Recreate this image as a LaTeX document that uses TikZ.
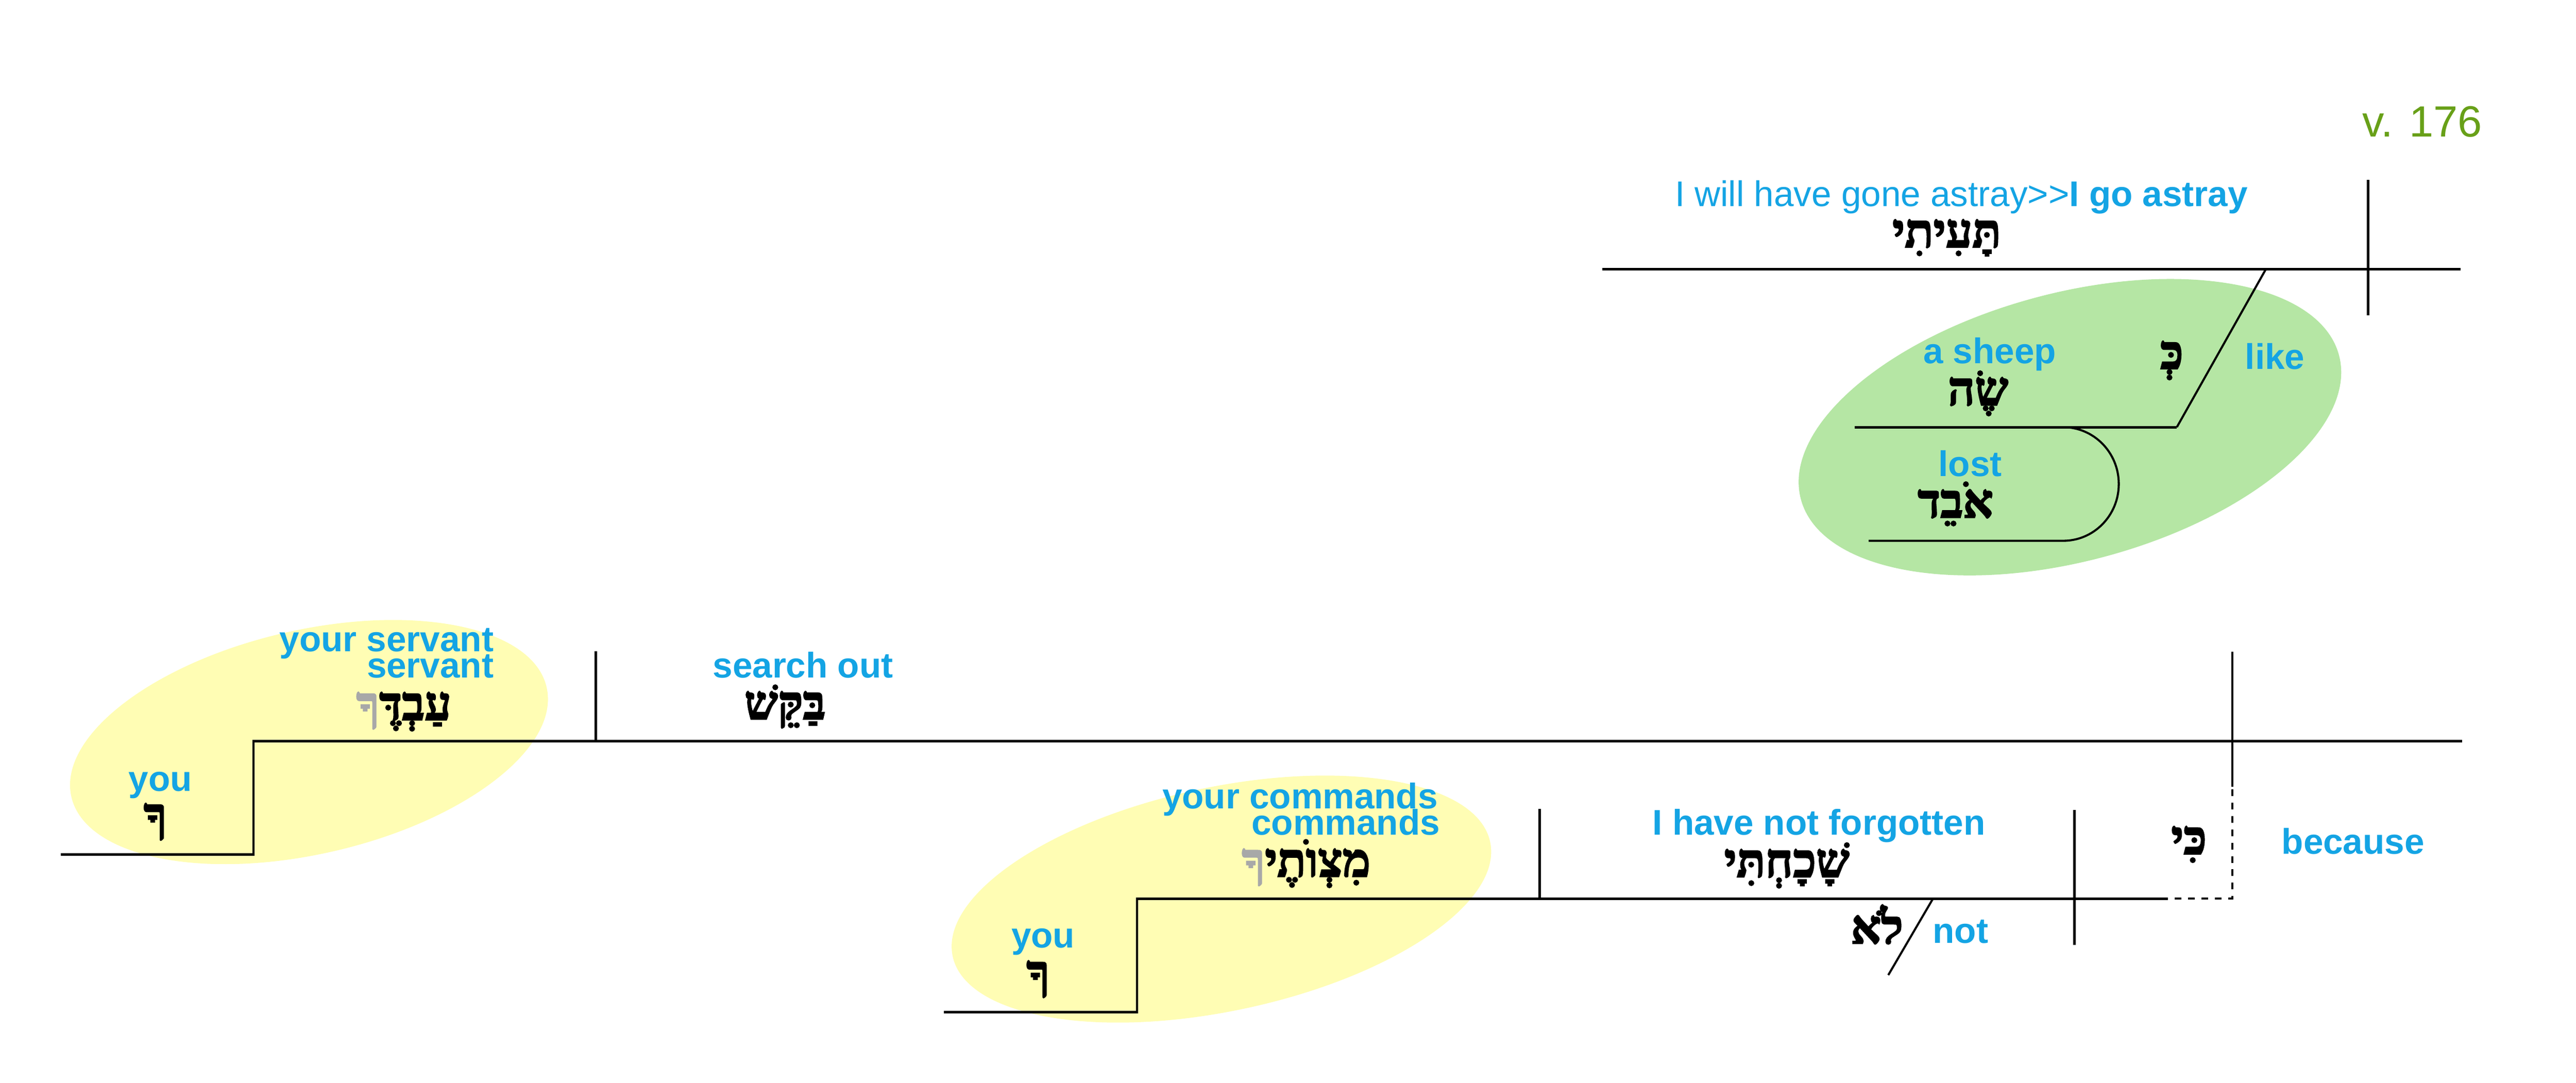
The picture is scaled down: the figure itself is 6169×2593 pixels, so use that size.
\documentclass[tikz,border=0pt]{standalone}
\usepackage{fontspec}
\setmainfont{Liberation Sans}
\newfontfamily\hebfont[Script=Hebrew,BoldFeatures={FakeBold=3}]{Liberation Serif}
\TeXXeTstate=1
\definecolor{glossblue}{RGB}{20,164,228}
\definecolor{versegreen}{RGB}{104,160,24}
\definecolor{hlyellow}{RGB}{255,253,180}
\definecolor{hlgreen}{RGB}{181,230,164}
\definecolor{suffixgray}{RGB}{168,168,168}
\newcommand{\heb}[1]{\beginR #1\endR}

\begin{document}
\begin{tikzpicture}[x=0.1mm,y=-0.1mm,
  gloss/.style={text=glossblue,inner sep=0pt,font=\bfseries\fontsize{24.3}{24.3}\selectfont},
  hword/.style={inner sep=0pt,anchor=base,font=\hebfont\bfseries\fontsize{32}{32}\selectfont},
  base line/.style={line width=0.6mm},
  slant line/.style={line width=0.5mm}]
\useasboundingbox (0,0) rectangle (6169,2593);

\fill[hlyellow,rotate around={13:(740,1777)}] (740,1777) ellipse [x radius=58.4mm,y radius=26.8mm];%les ellipses
\fill[hlyellow,rotate around={12:(2925,2153)}] (2925,2153) ellipse [x radius=65.8mm,y radius=26.8mm];
\fill[hlgreen,rotate around={15:(4957,1023)}] (4957,1023) ellipse [x radius=66.7mm,y radius=32.1mm];

\draw[base line] (3837,645) -- (5893,645);%les lignes
\draw[base line] (5671,431) -- (5671,755);
\draw[slant line] (5426,645) -- (5213,1023);
\draw[base line] (4442,1023) -- (5213,1023);
\draw[slant line] (4941,1023) arc[start angle=90,end angle=-90,x radius=13.3mm,y radius=13.6mm] -- (4475,1295);

\draw[base line] (145,2046) -- (607,2046) -- (607,1775) -- (5896,1775);
\draw[base line] (1427,1560) -- (1427,1775);
\draw[base line] (2260,2424) -- (2723,2424) -- (2723,2152) -- (5192,2152);
\draw[base line] (3687,1937) -- (3687,2152);
\draw[base line] (4968,1940) -- (4968,2263);
\draw[slant line] (4629,2152) -- (4522,2335);
\draw[line width=0.5mm,dash pattern=on 1.6mm off 1.6mm,dash phase=1.6mm] (5192,2152) -- (5346,2152) -- (5346,1884);
\draw[base line] (5346,1884) -- (5346,1561);

\node[anchor=base east,inner sep=0pt,text=versegreen,font=\fontsize{29.8}{29.8}\selectfont] (verse) at (5945,327) {v. 176};

\node[gloss,anchor=base] (astrayE) at (4697,494) {{\mdseries I will have gone astray>\kern0pt>}I go astray};%les mots
\node[hword] (astrayH) at (4662,592) {\heb{תָּעִיתִי}};
\node[gloss,anchor=base] (sheepE) at (4765,871) {a sheep};
\node[hword] (sheepH) at (4737,970) {\heb{שֶׂה}};
\node[hword] (keH) at (5201,883) {\heb{כְּ}};
\node[gloss,anchor=base] (likeE) at (5448,884) {like};
\node[gloss,anchor=base] (lostE) at (4718,1141) {lost};
\node[hword] (lostH) at (4683,1239) {\heb{אֹבֵד}};

\node[gloss,anchor=base] (youAE) at (384,1895) {you};
\node[hword] (youAH) at (372,1990) {\heb{ךָ}};
\node[gloss,anchor=base east] (servantE) at (1183,1560) {your servant};
\node[gloss,anchor=base east] (servantF) at (1183,1623) {servant};
\node[hword] (servantH) at (967,1724) {{\color{suffixgray}ךָ}עַבְדֶּ};
\node[gloss,anchor=base] (searchE) at (1923,1623) {search out};
\node[hword] (searchH) at (1880,1722) {\heb{בַּקֵּשׁ}};

\node[gloss,anchor=base] (youBE) at (2498,2269) {you};
\node[hword] (youBH) at (2486,2367) {\heb{ךָ}};
\node[gloss,anchor=base east] (commandE) at (3444,1937) {your commands};
\node[gloss,anchor=base east] (commandF) at (3449,1999) {commands};
\node[hword] (commandH) at (3128,2099) {{\color{suffixgray}ךָ}מִצְוֺתֶי};
\node[gloss,anchor=base] (forgotE) at (4356,1999) {I have not forgotten};
\node[hword] (forgotH) at (4279,2100) {\heb{שָׁכָחְתִּי}};
\node[hword] (loH) at (4495,2259) {\heb{לֹא}};
\node[gloss,anchor=base] (notE) at (4695,2259) {not};
\node[hword] (kiH) at (5242,2045) {\heb{כִּי}};
\node[gloss,anchor=base] (becauseE) at (5635,2045) {because};

\end{tikzpicture}
\end{document}
